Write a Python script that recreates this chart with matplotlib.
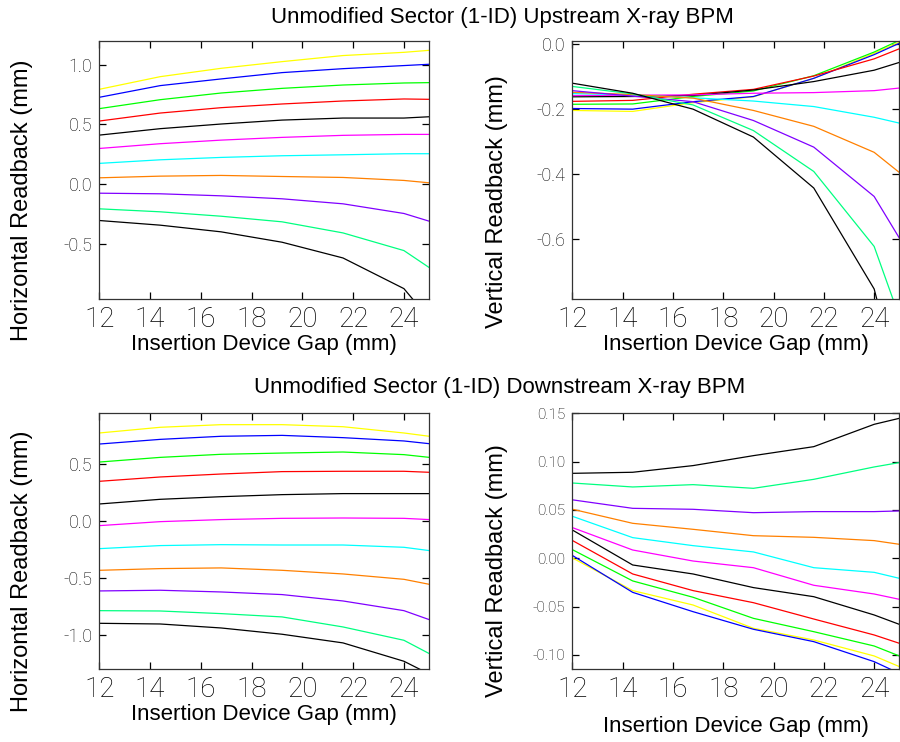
import matplotlib
matplotlib.use("Agg")
import matplotlib.pyplot as plt
from matplotlib import font_manager

plt.rcParams['axes.unicode_minus'] = False

# ---------------- data ----------------
gap = [12.0, 14.4, 16.8, 19.2, 21.6, 24.0, 25.0]

colors = ['#ffff00', '#0000ff', '#00ff00', '#ff0000', '#000000', '#ff00ff',
          '#00ffff', '#ff8000', '#8000ff', '#00ff80', '#000000']

up_h = [
    [0.795, 0.901, 0.971, 1.027, 1.078, 1.105, 1.122],
    [0.728, 0.826, 0.882, 0.935, 0.968, 0.994, 1.005],
    [0.633, 0.708, 0.764, 0.803, 0.831, 0.848, 0.851],
    [0.529, 0.596, 0.641, 0.672, 0.697, 0.714, 0.711],
    [0.411, 0.465, 0.504, 0.537, 0.554, 0.554, 0.565],
    [0.299, 0.339, 0.369, 0.392, 0.409, 0.417, 0.417],
    [0.174, 0.204, 0.224, 0.238, 0.246, 0.255, 0.255],
    [0.053, 0.067, 0.073, 0.064, 0.056, 0.031, 0.011],
    [-0.076, -0.081, -0.098, -0.123, -0.165, -0.246, -0.311],
    [-0.207, -0.232, -0.269, -0.316, -0.409, -0.557, -0.700],
    [-0.305, -0.344, -0.400, -0.487, -0.619, -0.876, -1.130],
]

up_v = [
    [-0.204, -0.207, -0.180, -0.162, -0.105, -0.028, 0.006],
    [-0.198, -0.200, -0.177, -0.161, -0.105, -0.032, 0.003],
    [-0.185, -0.184, -0.161, -0.144, -0.097, -0.024, 0.012],
    [-0.176, -0.173, -0.154, -0.139, -0.098, -0.045, -0.014],
    [-0.162, -0.161, -0.158, -0.141, -0.115, -0.080, -0.056],
    [-0.158, -0.157, -0.156, -0.151, -0.149, -0.143, -0.135],
    [-0.152, -0.156, -0.165, -0.175, -0.192, -0.225, -0.243],
    [-0.148, -0.155, -0.166, -0.204, -0.253, -0.333, -0.395],
    [-0.143, -0.160, -0.177, -0.235, -0.317, -0.469, -0.597],
    [-0.130, -0.153, -0.187, -0.266, -0.392, -0.623, -0.840],
    [-0.120, -0.151, -0.200, -0.286, -0.443, -0.754, -1.050],
]

down_h = [
    [0.775, 0.825, 0.848, 0.848, 0.830, 0.775, 0.746],
    [0.678, 0.719, 0.746, 0.754, 0.734, 0.705, 0.681],
    [0.520, 0.561, 0.588, 0.599, 0.608, 0.585, 0.561],
    [0.351, 0.389, 0.415, 0.436, 0.439, 0.439, 0.430],
    [0.152, 0.193, 0.216, 0.234, 0.243, 0.243, 0.243],
    [-0.038, -0.003, 0.015, 0.026, 0.029, 0.026, 0.015],
    [-0.240, -0.213, -0.205, -0.208, -0.208, -0.228, -0.257],
    [-0.430, -0.415, -0.409, -0.430, -0.462, -0.509, -0.553],
    [-0.611, -0.605, -0.620, -0.643, -0.699, -0.784, -0.863],
    [-0.784, -0.787, -0.810, -0.839, -0.927, -1.044, -1.161],
    [-0.895, -0.901, -0.936, -0.991, -1.067, -1.228, -1.340],
]

down_v = [
    [0.0005, -0.0334, -0.0483, -0.0724, -0.0845, -0.1010, -0.1120],
    [0.0030, -0.0352, -0.0552, -0.0734, -0.0862, -0.1069, -0.1190],
    [0.0090, -0.0234, -0.0403, -0.0621, -0.0759, -0.0907, -0.1010],
    [0.0185, -0.0162, -0.0334, -0.0459, -0.0628, -0.0793, -0.0879],
    [0.0293, -0.0069, -0.0162, -0.0303, -0.0397, -0.0586, -0.0683],
    [0.0318, 0.0086, -0.0028, -0.0097, -0.0279, -0.0369, -0.0424],
    [0.0435, 0.0214, 0.0131, 0.0066, -0.0097, -0.0145, -0.0207],
    [0.0508, 0.0362, 0.0300, 0.0234, 0.0217, 0.0183, 0.0145],
    [0.0605, 0.0517, 0.0507, 0.0472, 0.0483, 0.0483, 0.0490],
    [0.0779, 0.0738, 0.0762, 0.0724, 0.0817, 0.0945, 0.0990],
    [0.0879, 0.0890, 0.0959, 0.1062, 0.1155, 0.1386, 0.1448],
]

xticks = [12, 14, 16, 18, 20, 22, 24]
title_up = "Unmodified Sector (1-ID) Upstream X-ray BPM"
title_down = "Unmodified Sector (1-ID) Downstream X-ray BPM"
xlabel = "Insertion Device Gap (mm)"
ylabel_h = "Horizontal Readback (mm)"
ylabel_v = "Vertical Readback (mm)"

# ---------------- fonts ----------------
names = {f.name for f in font_manager.fontManager.ttflist}
if 'Liberation Sans Narrow' in names:
    title_font = dict(family='Liberation Sans Narrow', size=19.5)
else:
    title_font = dict(family='Liberation Sans', size=16)
label_family = 'Liberation Sans'
tick_family = 'Roboto' if 'Roboto' in names else 'DejaVu Sans'

# ---------------- figure ----------------
W, H = 900, 742
fig = plt.figure(figsize=(W / 100, H / 100), dpi=100)


def px_axes(left, top, right, bottom):
    return fig.add_axes([left / W, 1 - bottom / H, (right - left) / W, (bottom - top) / H])


panels = [
    # (box, data, ylim, yticks, fmt, ylab, xlab_y, ylab_x_px, ylab_y, ysize)
    ((99.3, 41, 429.3, 299), up_h, (-0.963, 1.2), [-0.5, 0.0, 0.5, 1.0], '%.1f',
     ylabel_h, -0.178, 22, 0.384, 13),
    ((572.3, 41, 899.3, 299), up_v, (-0.785, 0.01), [-0.6, -0.4, -0.2, 0.0], '%.1f',
     ylabel_v, -0.178, 497, 0.376, 13),
    ((99.3, 412.7, 429.3, 669), down_h, (-1.296, 0.953), [-1.0, -0.5, 0.0, 0.5], '%.1f',
     ylabel_h, -0.176, 22, 0.382, 13),
    ((572.3, 413.3, 899.3, 669), down_v, (-0.1145, 0.15),
     [-0.10, -0.05, 0.0, 0.05, 0.10, 0.15], '%.2f',
     ylabel_v, -0.226, 497, 0.386, 11),
]

for box, data, ylim, yt, fmt, ylab, xly, ylx, yly, ysize in panels:
    ax = px_axes(*box)
    for vals, c in zip(data, colors):
        ax.plot(gap, vals, color=c, lw=0.9)
    ax.set_xlim(12, 25)
    ax.set_ylim(*ylim)
    ax.set_xticks(xticks)
    ax.set_xticklabels([str(t) for t in xticks], family=tick_family,
                       fontweight='light', fontsize=20)
    ax.set_yticks(yt)
    ax.set_yticklabels([fmt % v for v in yt], family=tick_family,
                       fontweight='light', fontsize=ysize)
    ax.tick_params(direction='in', top=True, right=True, length=5, width=0.9,
                   color='black')
    ax.tick_params(axis='x', pad=5)
    ax.tick_params(axis='y', pad=5)
    for s in ax.spines.values():
        s.set_linewidth(0.9)
        s.set_color('#333333')
    ax.set_xlabel(xlabel, family=label_family, fontsize=16, va='center')
    ax.xaxis.set_label_coords(0.5, xly)
    ax.set_ylabel(ylab, family=label_family, fontsize=17, va='center')
    bw = box[2] - box[0]
    ax.yaxis.set_label_coords((ylx - box[0]) / bw, yly)

fig.text(502 / W, 1 - 18 / H, title_up, ha='center', va='center', **title_font)
fig.text(500 / W, 1 - 388 / H, title_down, ha='center', va='center', **title_font)

fig.savefig('out.png', dpi=100)
